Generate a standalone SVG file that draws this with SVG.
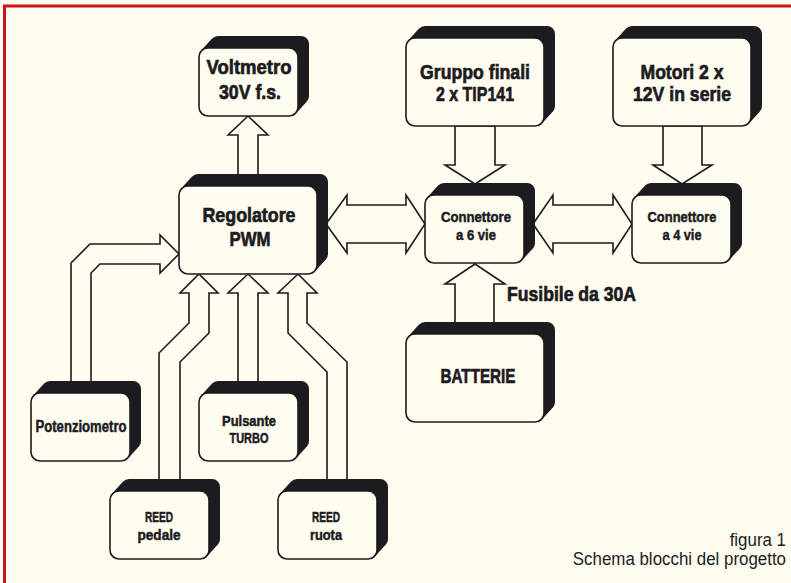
<svg xmlns="http://www.w3.org/2000/svg" xmlns:xlink="http://www.w3.org/1999/xlink" width="791" height="583" viewBox="0 0 791 583">
<style>
.bg{fill:#FFFDEF}
.frame{stroke:#CC1418;stroke-width:3;fill:none}
.shadow{fill:#1C1B1F;stroke:#1C1B1F;stroke-width:16;stroke-linejoin:round}
.box{fill:#FFFDEF;stroke:#1C1B1F;stroke-width:1.6}
.arrow{fill:#FFFDEF;stroke:#1C1B1F;stroke-width:1.6;stroke-linejoin:miter}
text{font-family:"Liberation Sans",Arial,sans-serif;fill:#1C1B1F;text-anchor:middle}
.b{font-weight:bold;font-size:21px;stroke:#1C1B1F;stroke-width:0.7}
.m{font-weight:bold;font-size:15px;stroke:#1C1B1F;stroke-width:0.5}
.cap{font-size:19px;text-anchor:end}
</style>
<defs>
<g id="small">
<polygon class="shadow" points="8,8 19,-4 102,-4 102,48 91,60 8,60"/>
<rect class="box" x="0" y="0" width="99" height="68" rx="9"/>
</g>
<g id="large">
<polygon class="shadow" points="8,8 19,-4 141,-4 141,68 130,80 8,80"/>
<rect class="box" x="0" y="0" width="138" height="88" rx="9"/>
</g>
</defs>
<rect class="bg" x="0" y="0" width="791" height="583"/>
<path class="frame" d="M4.5,583 V6 H791"/>
<g id="connectors">
<polygon class="arrow" points="238,178 238,135 228,135 248,116 268,135 258,135 258,178"/>
<polygon class="arrow" points="455,126 455,165 445,165 475,184 505,165 495,165 495,126"/>
<polygon class="arrow" points="663,126 663,165 653,165 682,184 712,165 702,165 702,126"/>
<polygon class="arrow" points="326,224 347,195 347,205 406,205 406,195 425,224 406,253 406,243 347,243 347,253"/>
<polygon class="arrow" points="533,224 553,195 553,205 613,205 613,195 632,224 613,253 613,243 553,243 553,253"/>
<polygon class="arrow" points="455,326 455,284 445,284 475,264 505,284 494,284 494,326"/>
<polygon class="arrow" points="71,384 71,263 90,244 160,244 160,235 179,254 160,273 160,264 100,264 91,273 91,384"/>
<polygon class="arrow" points="159,482 159,353 189,323 189,293 180,293 199,274 218,293 209,293 209,333 180,362 180,482"/>
<polygon class="arrow" points="238,384 238,293 228,293 248,274 268,293 258,293 258,384"/>
<polygon class="arrow" points="327,482 327,372 288,333 288,293 278,293 298,274 317,293 307,293 307,323 347,362 347,482"/>
</g>
<g id="voltmetro"><use xlink:href="#small" x="199" y="48"/><text class="b" x="249" y="74" textLength="85" lengthAdjust="spacingAndGlyphs">Voltmetro</text><text class="b" x="250" y="99" textLength="62" lengthAdjust="spacingAndGlyphs">30V f.s.</text></g>
<g id="regolatore"><use xlink:href="#large" x="179" y="186"/><text class="b" x="249" y="222" textLength="93" lengthAdjust="spacingAndGlyphs">Regolatore</text><text class="b" x="250" y="246" textLength="41" lengthAdjust="spacingAndGlyphs">PWM</text></g>
<g id="gruppo"><use xlink:href="#large" x="406" y="38"/><text class="b" x="475" y="79" textLength="110" lengthAdjust="spacingAndGlyphs">Gruppo finali</text><text class="b" x="475" y="101" textLength="78" lengthAdjust="spacingAndGlyphs">2 x TIP141</text></g>
<g id="motori"><use xlink:href="#large" x="613" y="38"/><text class="b" x="682" y="79" textLength="83" lengthAdjust="spacingAndGlyphs">Motori 2 x</text><text class="b" x="682" y="101" textLength="98" lengthAdjust="spacingAndGlyphs">12V in serie</text></g>
<g id="conn6"><use xlink:href="#small" x="425" y="195"/><text class="m" x="476" y="222" textLength="70" lengthAdjust="spacingAndGlyphs">Connettore</text><text class="m" x="476" y="240" textLength="40" lengthAdjust="spacingAndGlyphs">a 6 vie</text></g>
<g id="conn4"><use xlink:href="#small" x="632" y="195"/><text class="m" x="682" y="222" textLength="69" lengthAdjust="spacingAndGlyphs">Connettore</text><text class="m" x="682" y="240" textLength="39" lengthAdjust="spacingAndGlyphs">a 4 vie</text></g>
<g id="batterie"><use xlink:href="#large" x="406" y="334"/><text class="b" x="478" y="383" textLength="75" lengthAdjust="spacingAndGlyphs">BATTERIE</text></g>
<g id="potenziometro"><use xlink:href="#small" x="31" y="393"/><text class="m" x="81" y="432" style="font-size:16px" textLength="91" lengthAdjust="spacingAndGlyphs">Potenziometro</text></g>
<g id="pulsante"><use xlink:href="#small" x="199" y="393"/><text class="m" x="249" y="426" textLength="54" lengthAdjust="spacingAndGlyphs">Pulsante</text><text class="m" x="249" y="443" textLength="39" lengthAdjust="spacingAndGlyphs">TURBO</text></g>
<g id="reedpedale"><use xlink:href="#small" x="110" y="491"/><text class="m" x="159" y="522" textLength="28" lengthAdjust="spacingAndGlyphs">REED</text><text class="m" x="159" y="540" textLength="43" lengthAdjust="spacingAndGlyphs">pedale</text></g>
<g id="reedruota"><use xlink:href="#small" x="278" y="491"/><text class="m" x="326" y="522" textLength="28" lengthAdjust="spacingAndGlyphs">REED</text><text class="m" x="326" y="540" textLength="32" lengthAdjust="spacingAndGlyphs">ruota</text></g>
<text class="b" x="507" y="301" style="text-anchor:start" textLength="129" lengthAdjust="spacingAndGlyphs">Fusibile da 30A</text>
<g transform="translate(786,0) scale(0.89,1)">
<text class="cap" x="0" y="546">figura 1</text>
<text class="cap" x="0" y="565">Schema blocchi del progetto</text>
</g>
</svg>
